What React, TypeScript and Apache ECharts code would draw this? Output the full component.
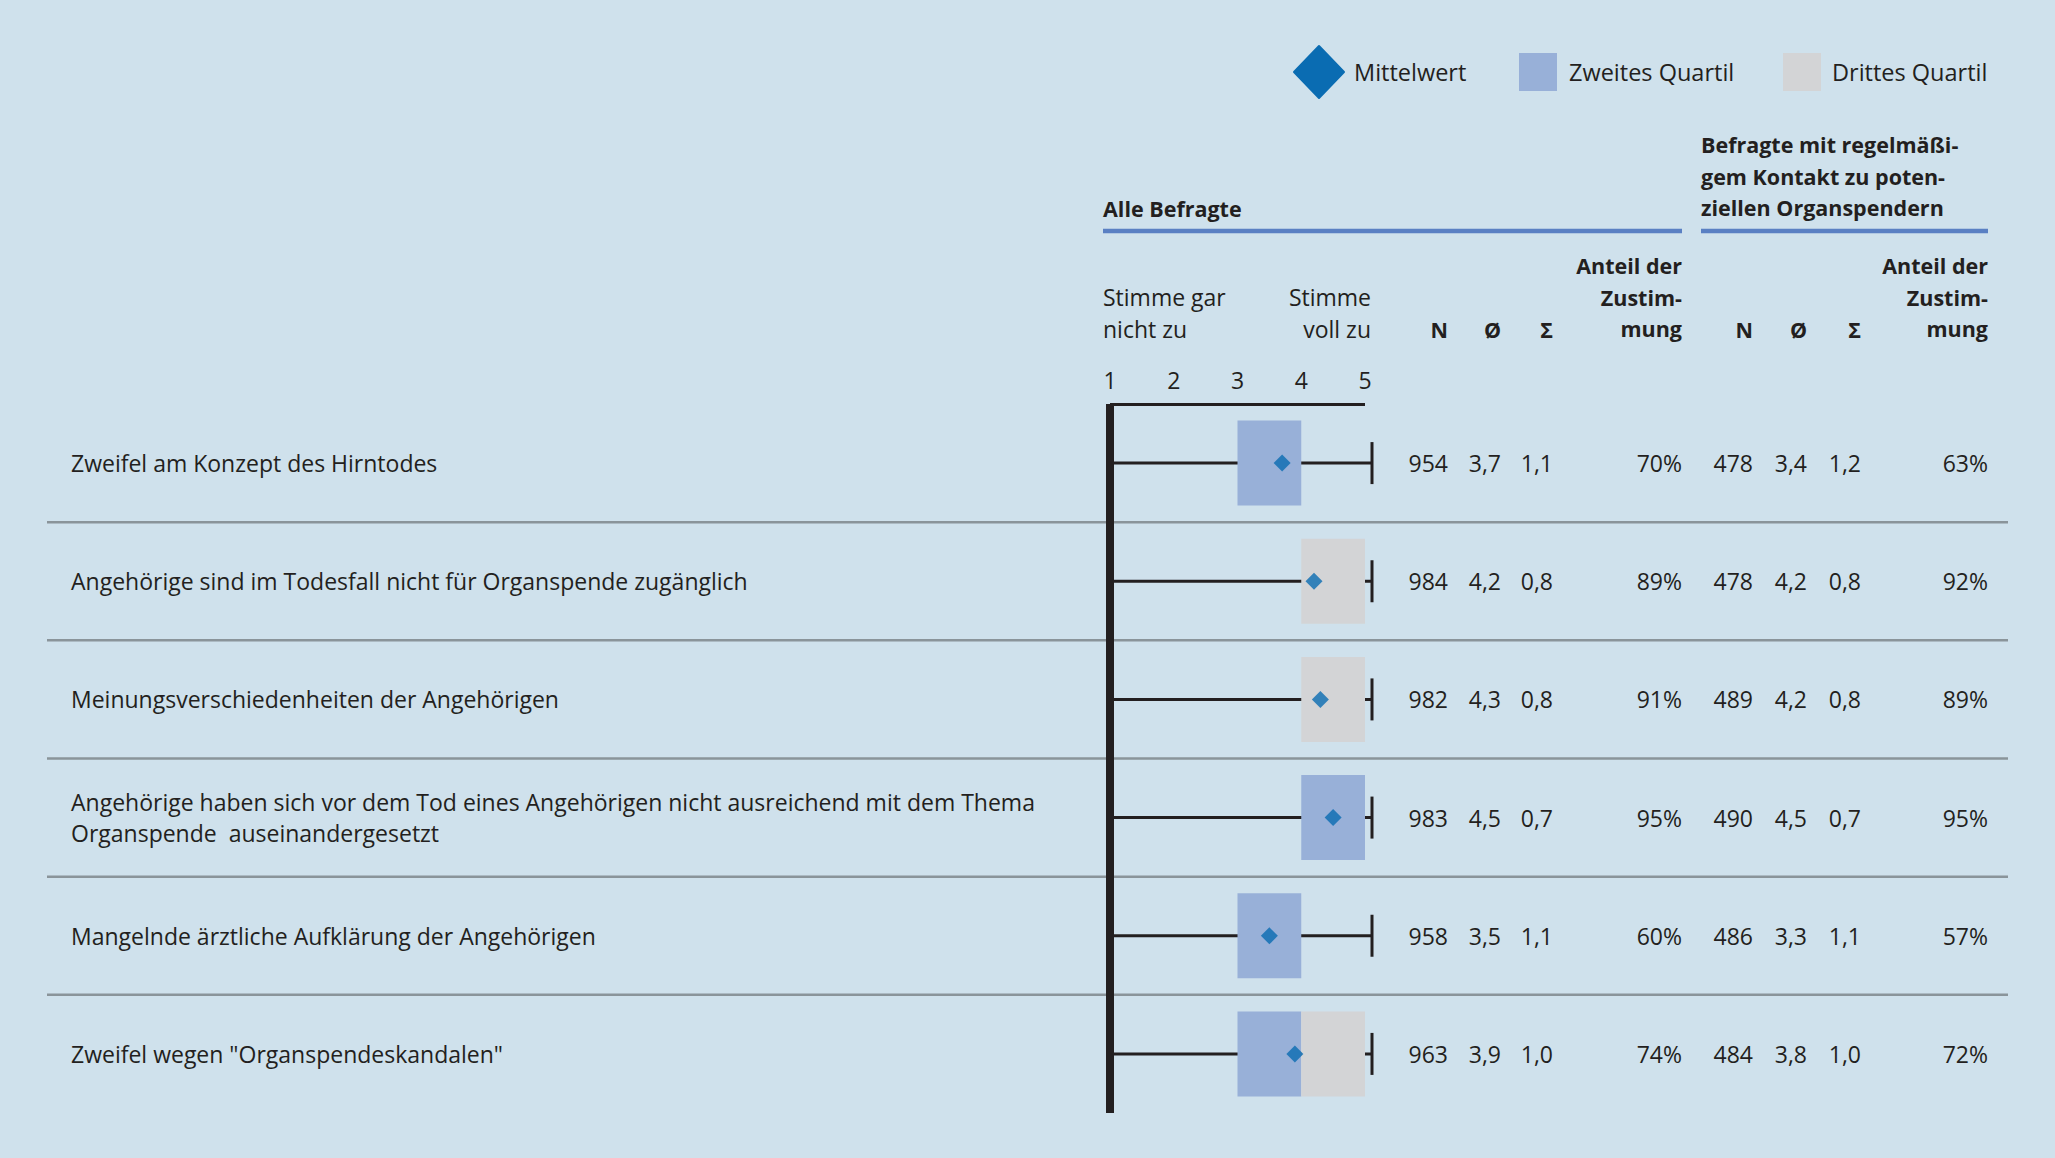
import React, { useEffect, useRef } from "react";
import * as echarts from "echarts";

const categories = [
  "Zweifel am Konzept des Hirntodes",
  "Angehörige sind im Todesfall nicht für Organspende zugänglich",
  "Meinungsverschiedenheiten der Angehörigen",
  "Angehörige haben sich vor dem Tod eines Angehörigen nicht ausreichend mit dem Thema\nOrganspende  auseinandergesetzt",
  "Mangelnde ärztliche Aufklärung der Angehörigen",
  'Zweifel wegen "Organspendeskandalen"',
];
const whiskerMin = [1, 1, 1, 1, 1, 1];
const quartil1 = [3, 4, 4, 4, 3, 3];
const medianValues = [4, 4, 4, 5, 4, 4];
const quartil3 = [4, 5, 5, 5, 4, 5];
const whiskerMax = [5, 5, 5, 5, 5, 5];

const nAll = [954, 984, 982, 983, 958, 963];
const meanAll = [3.7, 4.2, 4.3, 4.5, 3.5, 3.9];
const sdAll = [1.1, 0.8, 0.8, 0.7, 1.1, 1.0];
const shareAll = [70, 89, 91, 95, 60, 74];

const nContact = [478, 478, 489, 490, 486, 484];
const meanContact = [3.4, 4.2, 4.2, 4.5, 3.3, 3.8];
const sdContact = [1.2, 0.8, 0.8, 0.7, 1.1, 1.0];
const shareContact = [63, 92, 89, 95, 57, 72];

const scaleMin = 1;
const scaleMax = 5;
const scaleStep = 1;

const FONT = '"Open Sans", "Noto Sans", sans-serif';
const TXT = "#231f20";
const BLUE_BOX = "#98b0d8";
const GRAY_BOX = "#d3d4d6";
const MEAN = "#0a6cb2";
const HEAD_LINE = "#5a80c3";
const SEP = "#8a949a";
const BG = "#cfe1ec";

const fmt = (v: number) => v.toFixed(1).replace(".", ",");

function txt(text: string, x: number, y: number, opts: any = {}) {
  const align = opts.align || "left";
  return {
    type: "text",
    x,
    y,
    silent: true,
    style: {
      text,
      fill: TXT,
      fontFamily: FONT,
      fontSize: opts.size || 23,
      fontWeight: opts.bold ? "bold" : "normal",
      lineHeight: opts.lh || 31.5,
      align,
      textAlign: align,
      verticalAlign: "middle",
      textVerticalAlign: "middle",
    },
  };
}

export default function App() {
  const ref = useRef<HTMLDivElement>(null);
  useEffect(() => {
    if (!ref.current) return;
    const chart = echarts.init(ref.current, undefined, { renderer: "svg" });

    const tableCols: Array<[number, (i: number) => string]> = [
      [1448, (i) => String(nAll[i])],
      [1501, (i) => fmt(meanAll[i])],
      [1553, (i) => fmt(sdAll[i])],
      [1682, (i) => `${shareAll[i]}%`],
      [1753, (i) => String(nContact[i])],
      [1807, (i) => fmt(meanContact[i])],
      [1861, (i) => fmt(sdContact[i])],
      [1988, (i) => `${shareContact[i]}%`],
    ];

    const option: any = {
      animation: false,
      backgroundColor: BG,
      textStyle: { fontFamily: FONT },
      grid: {
        left: 1110,
        top: 404,
        width: 255,
        height: 709,
        containLabel: false,
        outerBoundsMode: "none",
      },
      xAxis: {
        type: "value",
        position: "top",
        min: scaleMin,
        max: scaleMax,
        interval: scaleStep,
        axisLine: { show: true, lineStyle: { color: TXT, width: 3, cap: "butt" } },
        axisTick: { show: false },
        splitLine: { show: false },
        axisLabel: { margin: 13, fontSize: 23, color: TXT, fontFamily: FONT },
      },
      yAxis: {
        type: "category",
        inverse: true,
        data: categories,
        z: 5,
        axisLine: { show: true, lineStyle: { color: TXT, width: 8, cap: "butt" } },
        axisTick: { show: false },
        splitLine: { show: false },
        axisLabel: {
          interval: 0,
          align: "left",
          margin: 1039,
          fontSize: 23,
          lineHeight: 31,
          color: TXT,
          fontFamily: FONT,
        },
      },
      graphic: [
        // legend
        {
          type: "polygon",
          silent: true,
          shape: { points: [[1319, 46], [1344, 72], [1319, 98], [1294, 72]] },
          style: { fill: MEAN, stroke: MEAN, lineWidth: 2, lineJoin: "round" },
        },
        txt("Mittelwert", 1354, 72, { size: 23.5 }),
        { type: "rect", silent: true, shape: { x: 1519, y: 53, width: 38, height: 38 }, style: { fill: BLUE_BOX } },
        txt("Zweites Quartil", 1569, 72, { size: 23.5 }),
        { type: "rect", silent: true, shape: { x: 1783, y: 53, width: 38, height: 38 }, style: { fill: GRAY_BOX } },
        txt("Drittes Quartil", 1832, 72, { size: 23.5 }),
        // group headers
        txt("Alle Befragte", 1103, 208, { bold: true, size: 21.5 }),
        txt("Befragte mit regelmäßi-\ngem Kontakt zu poten-\nziellen Organspendern", 1701, 176, { bold: true, size: 21.5 }),
        { type: "line", silent: true, shape: { x1: 1103, y1: 231, x2: 1682, y2: 231 }, style: { stroke: HEAD_LINE, lineWidth: 4.5 } },
        { type: "line", silent: true, shape: { x1: 1701, y1: 231, x2: 1988, y2: 231 }, style: { stroke: HEAD_LINE, lineWidth: 4.5 } },
        // column headers
        txt("Stimme gar\nnicht zu", 1103, 313, { lh: 32 }),
        txt("Stimme\nvoll zu", 1371, 313, { lh: 32, align: "right" }),
        txt("N", 1448, 329, { bold: true, size: 21.5, align: "right" }),
        txt("Ø", 1501, 329, { bold: true, size: 21.5, align: "right" }),
        txt("Σ", 1553, 329, { bold: true, size: 21.5, align: "right" }),
        txt("Anteil der\nZustim-\nmung", 1682, 297, { bold: true, size: 21.5, align: "right" }),
        txt("N", 1753, 329, { bold: true, size: 21.5, align: "right" }),
        txt("Ø", 1807, 329, { bold: true, size: 21.5, align: "right" }),
        txt("Σ", 1861, 329, { bold: true, size: 21.5, align: "right" }),
        txt("Anteil der\nZustim-\nmung", 1988, 297, { bold: true, size: 21.5, align: "right" }),
      ],
      series: [
        {
          name: "Tabelle",
          type: "custom",
          z: 1,
          silent: true,
          data: categories.map((_, i) => [whiskerMin[i], i]),
          encode: { x: 0, y: 1 },
          renderItem: (params: any, api: any) => {
            const i = params.dataIndex;
            const y = api.coord([scaleMin, i])[1];
            const band = api.size([0, 1])[1];
            const children: any[] = [];
            if (i > 0) {
              children.push({
                type: "line",
                shape: { x1: 47, y1: y - band / 2, x2: 2008, y2: y - band / 2 },
                style: { stroke: SEP, lineWidth: 2.5 },
              });
            }
            tableCols.forEach(([x, f]) => {
              children.push({
                type: "text",
                x,
                y,
                style: {
                  text: f(i),
                  fill: TXT,
                  fontFamily: FONT,
                  fontSize: 23,
                  align: "right",
                  textAlign: "right",
                  verticalAlign: "middle",
                  textVerticalAlign: "middle",
                },
              });
            });
            return { type: "group", children };
          },
        },
        {
          name: "Box",
          type: "custom",
          z: 2,
          silent: true,
          data: categories.map((_, i) => [
            i,
            whiskerMin[i],
            quartil1[i],
            medianValues[i],
            quartil3[i],
            whiskerMax[i],
          ]),
          encode: { y: 0, x: [1, 2, 3, 4, 5] },
          renderItem: (params: any, api: any) => {
            const row = api.value(0);
            const band = api.size([0, 1])[1];
            const h = band * 0.72;
            const px = (v: number) => api.coord([v, row])[0];
            const y = api.coord([scaleMin, row])[1];
            const xMin = px(api.value(1));
            const xQ1 = px(api.value(2));
            const xMed = px(api.value(3));
            const xQ3 = px(api.value(4));
            const xMax = px(api.value(5)) + 7;
            const children: any[] = [
              {
                type: "line",
                shape: { x1: xMin, y1: y, x2: xMax, y2: y },
                style: { stroke: TXT, lineWidth: 3 },
              },
            ];
            if (xMed > xQ1) {
              children.push({
                type: "rect",
                shape: { x: xQ1, y: y - h / 2, width: xMed - xQ1, height: h },
                style: { fill: BLUE_BOX },
              });
            }
            if (xQ3 > xMed) {
              children.push({
                type: "rect",
                shape: { x: xMed, y: y - h / 2, width: xQ3 - xMed, height: h },
                style: { fill: GRAY_BOX },
              });
            }
            children.push({
              type: "line",
              shape: { x1: xMax, y1: y - 21, x2: xMax, y2: y + 21 },
              style: { stroke: TXT, lineWidth: 3 },
            });
            return { type: "group", children };
          },
        },
        {
          name: "Mittelwert",
          type: "scatter",
          z: 4,
          silent: true,
          symbol: "diamond",
          symbolSize: 17,
          itemStyle: { color: MEAN },
          data: meanAll.map((m, i) => [m, i]),
        },
      ],
    };
    chart.setOption(option);
    return () => chart.dispose();
  }, []);
  return (
    <div
      ref={ref}
      style={{ position: "fixed", left: 0, top: 0, width: 2055, height: 1158 }}
    />
  );
}
